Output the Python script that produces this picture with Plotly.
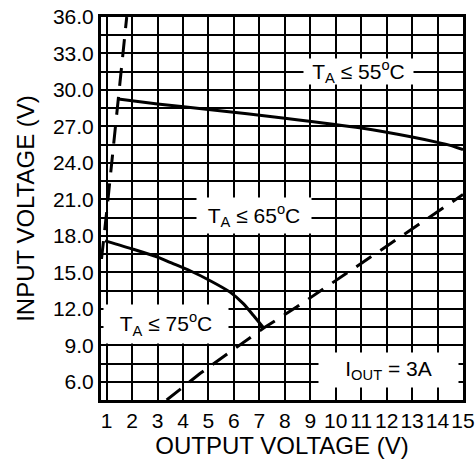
import plotly.graph_objs as go

# solid curves (output voltage vs max input voltage)
vout_55 = [1.46, 3, 5, 8, 11, 13, 14, 14.5, 15]
vin_55 = [29.25, 28.85, 28.4, 27.68, 26.87, 26.13, 25.69, 25.44, 25.09]

vout_65 = [0.94, 2.05, 3.03, 3.49, 4.28, 5.07, 5.85, 6.38, 6.77, 7.17]
vin_65 = [17.59, 16.9, 16.23, 15.82, 15.13, 14.31, 13.37, 12.41, 11.45, 10.42]

# dashed limit lines
vout_lim1 = [0.8, 1.0, 1.79]
vin_lim1 = [16.1, 19.9, 36.0]

vout_lim2 = [3.36, 4.67, 5.85, 7.17, 8.46, 12.19, 15]
vin_lim2 = [4.5, 6.68, 8.45, 10.42, 12.14, 17.46, 21.4]

x_ticks = list(range(1, 16))
y_ticks = [6, 9, 12, 15, 18, 21, 24, 27, 30, 33, 36]

font = dict(family='Liberation Sans, Arial, sans-serif', size=20, color='black')
label_font = dict(family='Liberation Sans, Arial, sans-serif', size=21, color='black')

traces = [
    go.Scatter(x=vout_55, y=vin_55, mode='lines', line=dict(color='black', width=3, shape='spline', smoothing=0.6)),
    go.Scatter(x=vout_65, y=vin_65, mode='lines', line=dict(color='black', width=3, shape='spline', smoothing=0.6)),
    go.Scatter(x=vout_lim1, y=vin_lim1, mode='lines', line=dict(color='black', width=3, dash='18px,11px')),
    go.Scatter(x=vout_lim2, y=vin_lim2, mode='lines', line=dict(color='black', width=3, dash='18px,11px')),
]


def label(text, x, y, w, h):
    return dict(text=text, x=x, y=y, xref='x', yref='y', showarrow=False,
                bgcolor='white', width=w, height=h, font=label_font)


layout = go.Layout(
    width=476, height=466,
    margin=dict(l=101, r=13, t=17, b=66),
    paper_bgcolor='white', plot_bgcolor='white',
    showlegend=False,
    font=font,
    xaxis=dict(range=[0.78, 15], tickvals=x_ticks, ticktext=[str(v) for v in x_ticks],
               showgrid=True, gridcolor='black', gridwidth=2,
               showline=True, linecolor='black', linewidth=3, mirror=True,
               ticks='', zeroline=False, automargin=False, tickangle=0,
               tickfont=dict(size=21),
               title=dict(text='OUTPUT VOLTAGE (V)', standoff=6)),
    yaxis=dict(range=[4.5, 36], tickvals=y_ticks, ticktext=['%.1f' % v for v in y_ticks],
               showgrid=True, gridcolor='black', gridwidth=2,
               minor=dict(dtick=1.5, tick0=4.5, showgrid=True, gridcolor='black', gridwidth=2),
               showline=True, linecolor='black', linewidth=3, mirror=True,
               ticks='', zeroline=False, automargin=False, tickfont=dict(size=21),
               title=dict(text='INPUT VOLTAGE (V)', standoff=12)),
    annotations=[
        label('T<sub>A</sub> ≤ 55<sup>o</sup>C', 10.91, 31.52, 107, 23),
        label('T<sub>A</sub> ≤ 65<sup>o</sup>C', 6.80, 19.65, 112, 33),
        label('T<sub>A</sub> ≤ 75<sup>o</sup>C', 3.33, 10.77, 122, 36),
        label('I<sub>OUT</sub> = 3A', 12.09, 7.0, 137, 32),
    ],
)

fig = go.Figure(data=traces, layout=layout)
fig.write_html('out.html', config={'displayModeBar': False},
               post_script="document.body.style.margin='0';")
